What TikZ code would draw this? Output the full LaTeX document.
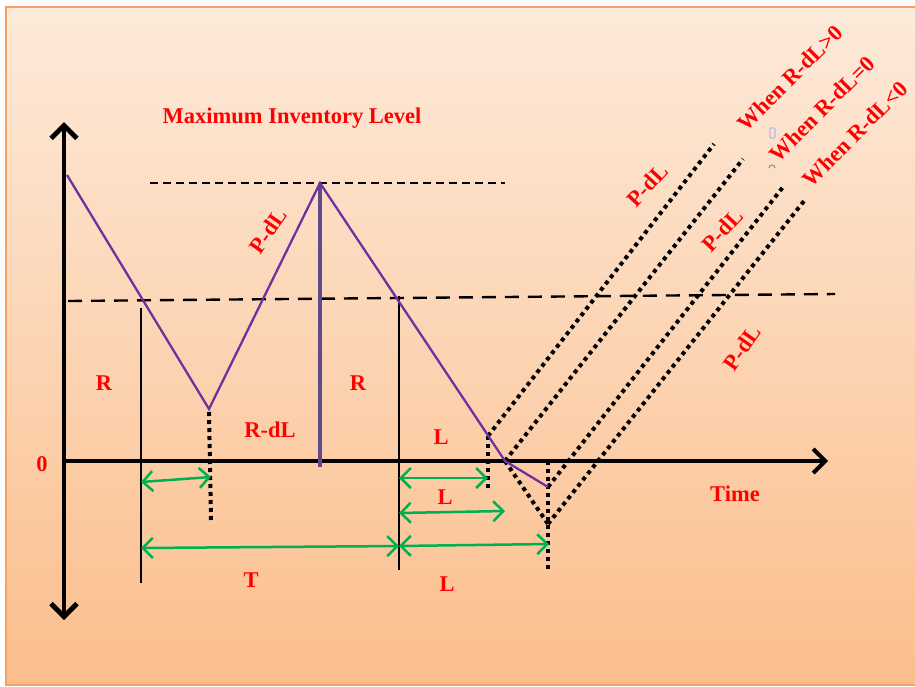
\documentclass[tikz,border=0pt]{standalone}
\usepackage{fontspec}
\setmainfont{Liberation Serif}
\usetikzlibrary{arrows.meta}
\definecolor{bgtop}{RGB}{253,234,218}
\definecolor{bgbot}{RGB}{251,190,140}
\definecolor{bord}{RGB}{247,160,95}
\definecolor{inv}{RGB}{112,48,160}
\definecolor{invbar}{RGB}{94,76,138}
\definecolor{grn}{RGB}{0,176,80}
\definecolor{lblred}{RGB}{255,0,0}
\begin{document}
\begin{tikzpicture}[x=1pt,y=-1pt,
  lab/.style={text=lblred, font=\fontsize{22.5}{26}\selectfont\bfseries, inner sep=0pt},
  axisline/.style={line width=4.8pt, black},
  invline/.style={line width=2.3pt, inv, line join=miter},
  dotl/.style={line width=4pt, black, dash pattern=on 4pt off 4pt},
  dashmax/.style={line width=2.3pt, black, dash pattern=on 8pt off 5pt},
  dashrl/.style={line width=2.4pt, black, dash pattern=on 14pt off 9pt},
  meas/.style={line width=2.5pt, grn, {Straight Barb[length=10pt,width=20pt]}-{Straight Barb[length=10pt,width=20pt]}},
  vline/.style={line width=2pt, black}]
\useasboundingbox (0,0) rectangle (915,686);
% background
\shade[top color=bgtop, bottom color=bgbot] (6,7) rectangle (918,685);
\draw[bord, line width=1.6pt] (6,7) rectangle (918,685);

% key points
\coordinate (O) at (64,461);
\coordinate (Ytop) at (64,122);
\coordinate (Ybot) at (64,620);
\coordinate (Xend) at (828,461);
\coordinate (A) at (67,175);
\coordinate (B) at (209,409);
\coordinate (C) at (320,183);
\coordinate (Cf) at (320,467);
\coordinate (D) at (505,461);
\coordinate (E) at (548,487);
\coordinate (F) at (548,524);
\coordinate (G) at (488,436);
\coordinate (M1) at (150,183);
\coordinate (M2) at (505,183);
\coordinate (R1) at (68,301);
\coordinate (R2) at (835,294);
\coordinate (V1t) at (141,308);
\coordinate (V1b) at (141,583);
\coordinate (V2t) at (399,296);
\coordinate (V2b) at (399,570);
\coordinate (Bs) at (209,412);
\coordinate (Bd) at (211,520);
\coordinate (Gd) at (488,489);
\coordinate (Et) at (548,461);
\coordinate (Ed) at (548,569);
\coordinate (P1) at (714,144);
\coordinate (P2) at (743,159);
\coordinate (P3) at (783,187);
\coordinate (P4) at (804,201);

% dashed levels
\draw[dashmax] (M1) -- (M2);
\draw[dashrl] (R1) -- (R2);

% dotted lines
\draw[dotl] (Bs) -- (Bd);
\draw[dotl] (G) -- (Gd);
\draw[dotl] (Et) -- (Ed);
\draw[dotl] (D) -- (F);
\draw[dotl] (G) -- (P1);
\draw[dotl] (D) -- (P2);
\draw[dotl] (E) -- (P3);
\draw[dotl] (F) -- (P4);

% vertical lines
\draw[vline] (V1t) -- (V1b);
\draw[vline] (V2t) -- (V2b);

% axes
\draw[axisline, {Straight Barb[length=13pt,width=26pt]}-{Straight Barb[length=13pt,width=26pt]}] (Ytop) -- (Ybot);
\draw[line width=4pt, -{Straight Barb[length=12pt,width=24pt]}] (O) -- (Xend);

% inventory
\draw[invbar, line width=4.5pt] (C) -- (Cf);
\draw[invline] (A) -- (B) -- (C) -- (D) -- (E);

% measures
\coordinate (g1a) at (141,482); \coordinate (g1b) at (211,477);
\coordinate (gTa) at (141,548); \coordinate (gTb) at (399,546);
\coordinate (gL1a) at (399,478); \coordinate (gL1b) at (488,478);
\coordinate (gL2a) at (399,513); \coordinate (gL2b) at (505,511);
\coordinate (gL3a) at (399,546); \coordinate (gL3b) at (549,544);
\draw[meas] (g1a) -- (g1b);
\draw[meas] (gTa) -- (gTb);
\draw[meas] (gL1a) -- (gL1b);
\draw[meas] (gL2a) -- (gL2b);
\draw[meas] (gL3a) -- (gL3b);

% small screenshot marks
\coordinate (mk1) at (770,128); \coordinate (mk1b) at (775,138);
\coordinate (mk2) at (775,168);
\draw[gray!60!blue!40, line width=1.2pt, rounded corners=1pt] (mk1) rectangle (mk1b);
\draw[gray!70, line width=1.5pt] (mk2) arc (0:180:3pt);

% labels
\node[lab] (title) at (292,118) {Maximum Inventory Level};
\node[lab] (rA) at (104,383) {R};
\node[lab] (rB) at (358,383) {R};
\node[lab] (rdl) at (270,430) {R-dL};
\node[lab] (zero) at (42,464) {0};
\node[lab] (l1) at (441,437) {L};
\node[lab] (l2) at (445,497) {L};
\node[lab] (l3) at (447,584) {L};
\node[lab] (t) at (251,580) {T};
\node[lab] (time) at (735,494) {Time};
\node[lab, rotate=55] (pdl1) at (268,231) {P-dL};
\node[lab, rotate=47] (pdl2) at (647,185) {P-dL};
\node[lab, rotate=47] (pdl3) at (722,230) {P-dL};
\node[lab, rotate=55] (pdl4) at (742,348) {P-dL};
\node[lab, rotate=45] (w1) at (790,78) {When R-dL>0};
\node[lab, rotate=45] (w2) at (822,109) {When R-dL=0};
\node[lab, rotate=45] (w3) at (855,134) {When R-dL<0};
\end{tikzpicture}
\end{document}
